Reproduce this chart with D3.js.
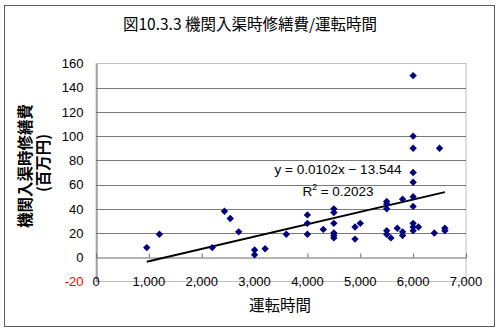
<!DOCTYPE html>
<html>
<head>
<meta charset="utf-8">
<script src="https://cdn.jsdelivr.net/npm/d3@7"></script>
<style>
  html, body { margin: 0; padding: 0; background: #fff; }
  svg { display: block; }
</style>
</head>
<body>
<svg id="chart" width="500" height="334"></svg>
<script>
// Operating hours (x) and dock-repair cost in million yen (y)
const hours = [
  960, 1200, 2200, 2430, 2540, 2700, 3000, 3000, 3200, 3600,
  4000, 4000, 4000, 4300,
  4500, 4500, 4500, 4500, 4500, 4500,
  4900, 4900, 5000,
  5500, 5500, 5500, 5500, 5500, 5580, 5700,
  5800, 5800, 5800,
  6000, 6000, 6000, 6000, 6000, 6000, 6000, 6000, 6000, 6000,
  6100, 6400, 6500, 6600, 6600
];
const cost = [
  8, 19, 8, 38, 32, 21, 6, 2, 7, 19,
  35, 28, 19, 23,
  40, 37, 28, 20, 18, 16,
  25, 15, 28,
  46, 44, 40, 22, 19, 16, 24,
  48, 21, 18,
  150, 100, 90, 70, 62, 50, 42, 28, 25, 22,
  25, 20, 90, 22, 24
];

// Linear trend reported on the chart
const slope = 0.0102;
const intercept = -13.544;
const rSquared = "0.2023";

const xTicks = [0, 1000, 2000, 3000, 4000, 5000, 6000, 7000];
const yTicks = [-20, 0, 20, 40, 60, 80, 100, 120, 140, 160];

const svg = d3.select("#chart");
const W = 500, H = 334;
const plot = { left: 96, right: 466, top: 63.5, bottom: 281.5 };

const x = d3.scaleLinear().domain([0, 7000]).range([plot.left, plot.right]);
const y = d3.scaleLinear().domain([-20, 160]).range([plot.bottom, plot.top]);

const latin = "'Liberation Sans', Arial, sans-serif";
const cjk = "'Noto Sans CJK JP', 'Noto Sans CJK SC', sans-serif";

svg.append("rect").attr("width", W).attr("height", H).attr("fill", "#fff");

// outer frame
svg.append("rect")
  .attr("x", 4.5).attr("y", 5.5).attr("width", 490).attr("height", 321)
  .attr("fill", "none").attr("stroke", "#5a5a5a").attr("stroke-width", 1);

// title
svg.append("text")
  .attr("x", 250).attr("y", 30)
  .attr("text-anchor", "middle")
  .attr("font-family", cjk).attr("font-size", 15.5)
  .attr("fill", "#000")
  .text("図10.3.3 機関入渠時修繕費/運転時間");

// plot area border
svg.append("rect")
  .attr("x", plot.left).attr("y", plot.top)
  .attr("width", plot.right - plot.left).attr("height", plot.bottom - plot.top)
  .attr("fill", "none").attr("stroke", "#c0c0c0").attr("stroke-width", 1);

// horizontal gridlines
svg.append("g")
  .selectAll("line")
  .data(yTicks.filter(d => d > -20 && d < 160 && d !== 0))
  .join("line")
  .attr("x1", plot.left).attr("x2", plot.right)
  .attr("y1", d => Math.round(y(d)) + 0.5).attr("y2", d => Math.round(y(d)) + 0.5)
  .attr("stroke", "#7a7a7a").attr("stroke-width", 1);

// y axis (left) with labels
const yAxis = d3.axisLeft(y).tickValues(yTicks).tickSize(0).tickPadding(13)
  .tickFormat(d => d < 0 ? "-" + Math.abs(d) : String(d));
const gy = svg.append("g")
  .attr("transform", `translate(${plot.left + 0.5},0)`)
  .call(yAxis);
gy.select(".domain").attr("stroke", "#6a6a6a");
gy.selectAll("text")
  .attr("font-family", latin).attr("font-size", 13)
  .attr("fill", d => d < 0 ? "#ff0000" : "#000");

// x axis crossing at zero, ticks pointing up
const xAxis = d3.axisTop(x).tickValues(xTicks).tickSize(4).tickSizeOuter(0).tickFormat(() => "");
const gx = svg.append("g")
  .attr("transform", `translate(0,${Math.round(y(0)) + 0.5})`)
  .call(xAxis);
gx.select(".domain").attr("stroke", "#6a6a6a");
gx.selectAll(".tick line").attr("stroke", "#6a6a6a");

// x tick labels along the bottom of the plot area
svg.append("g")
  .selectAll("text")
  .data(xTicks)
  .join("text")
  .attr("x", d => x(d)).attr("y", plot.bottom + 4)
  .attr("text-anchor", "middle")
  .attr("font-family", latin).attr("font-size", 13)
  .attr("fill", "#000")
  .text(d => d3.format(",")(d));

// trend line across the data range
const xMin = d3.min(hours), xMax = d3.max(hours);
svg.append("line")
  .attr("x1", x(xMin)).attr("y1", y(slope * xMin + intercept))
  .attr("x2", x(xMax)).attr("y2", y(slope * xMax + intercept))
  .attr("stroke", "#000").attr("stroke-width", 2);

// data points as diamonds
const diamond = "M0,-3.7L3.7,0L0,3.7L-3.7,0Z";
svg.append("g")
  .selectAll("path")
  .data(hours.map((h, i) => [h, cost[i]]))
  .join("path")
  .attr("d", diamond)
  .attr("transform", d => `translate(${x(d[0])},${y(d[1])})`)
  .attr("fill", "#000080");

// equation and R²
svg.append("text")
  .attr("x", 338).attr("y", 174)
  .attr("text-anchor", "middle")
  .attr("font-family", latin).attr("font-size", 13.5)
  .attr("fill", "#000")
  .text(`y = ${slope}x − ${Math.abs(intercept)}`);

const r2 = svg.append("text")
  .attr("x", 338).attr("y", 196)
  .attr("text-anchor", "middle")
  .attr("font-family", latin).attr("font-size", 13.5)
  .attr("fill", "#000");
r2.append("tspan").text("R");
r2.append("tspan").attr("font-size", 8.5).attr("dy", -6).text("2");
r2.append("tspan").attr("dy", 6).text(` = ${rSquared}`);

// axis titles
svg.append("text")
  .attr("x", 280).attr("y", 311)
  .attr("text-anchor", "middle")
  .attr("font-family", cjk).attr("font-size", 15.5)
  .attr("fill", "#000")
  .text("運転時間");

const yTitle = svg.append("text")
  .attr("transform", "translate(0,166) rotate(-90)")
  .attr("text-anchor", "middle")
  .attr("font-family", cjk).attr("font-size", 15.5).attr("font-weight", "bold")
  .attr("fill", "#000");
yTitle.append("tspan").attr("x", 0).attr("y", 31).text("機関入渠時修繕費");
yTitle.append("tspan").attr("x", 3).attr("y", 49).text("(百万円)");
</script>
</body>
</html>
